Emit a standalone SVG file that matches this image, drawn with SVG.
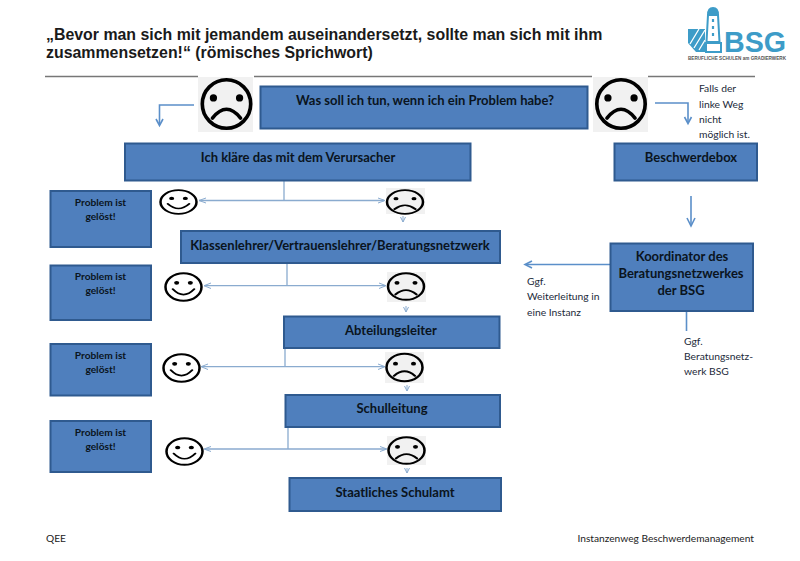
<svg xmlns="http://www.w3.org/2000/svg" width="800" height="561" viewBox="0 0 800 561">
<style>
text{font-family:Lato,"Open Sans",sans-serif;fill:#111}
.h{font-family:"Liberation Sans",Arial,sans-serif;font-weight:700;font-size:15.900px;fill:#1a1a1a}
.b{fill:#4f7fbd;stroke:#2f5a8f;stroke-width:2}
.t{font-weight:700;font-size:13px;text-anchor:middle;fill:#0a1420}
.s{font-weight:700;font-size:10.200px;text-anchor:middle;fill:#0a1420}
.n{font-size:10.300px;fill:#1c2a3a}
.f{font-size:10.200px;fill:#222}
.lt{fill:none;stroke:#8aabcf;stroke-width:1.3}
.ah{fill:none;stroke:#8aabcf;stroke-width:1}
.bl{fill:none;stroke:#5b8fc9;stroke-width:1.6}
.face{fill:none;stroke:#000;stroke-linecap:round}
</style>
<defs>
<g id="sadbig"><circle r="10" class="face" stroke-width="1.500"/><circle cx="-5.400" cy="-2.500" r="1.500"/><circle cx="5.400" cy="-2.500" r="1.500"/><path d="M-5.800 5.800Q0 -1.500 5.800 5.800" class="face" stroke-width="1.500"/></g>
<g id="sad"><circle r="10" class="face" stroke-width="1.400"/><circle cx="-5" cy="-2.800" r="1.400"/><circle cx="5" cy="-2.800" r="1.400"/><path d="M-5.800 6Q0 -0.500 5.800 6" class="face" stroke-width="1.400"/></g>
<g id="happy"><circle r="10" class="face" stroke-width="1.400"/><circle cx="-3.800" cy="-3" r="1.400"/><circle cx="3.800" cy="-3" r="1.400"/><path d="M-6 1.500Q0 9.500 6 1.500" class="face" stroke-width="1.200"/></g>
</defs>

<g id="header">
<text class="h" x="46" y="40">„Bevor man sich mit jemandem auseinandersetzt, sollte man sich mit ihm</text>
<text class="h" x="46" y="58">zusammensetzen!“ (römisches Sprichwort)</text>
<path d="M45 76.500H198M254 76.500H592M648 76.500H755" stroke="#777" stroke-width="1.300" fill="none"/>
</g>

<g id="logo">
<path d="M688 29H705V52H696L688 43Z" fill="#3d9cc8"/>
<path d="M690 44L699 29M694 48L705 30M699 50L705 40" stroke="#fff" stroke-width="1.300" fill="none"/>
<path d="M708 15H718L719.500 42H706.500Z" fill="#fff" stroke="#3d9cc8" stroke-width="2"/>
<path d="M707 15Q707 7 713 7Q719 7 719 15Z" fill="#3d9cc8"/>
<rect x="706" y="43" width="15" height="9" fill="#fff" stroke="#3d9cc8" stroke-width="2"/>
<path d="M713 19V36" stroke="#3d9cc8" stroke-width="2.200" stroke-dasharray="3 4" fill="none"/>
<text x="724" y="52" font-size="29" font-weight="700" style="font-family:'Liberation Sans',sans-serif;fill:#3d9cc8" textLength="62" lengthAdjust="spacingAndGlyphs">BSG</text>
<text x="688" y="60" font-size="5.200" font-weight="700" style="font-family:'Liberation Sans',sans-serif;fill:#555" textLength="98" lengthAdjust="spacingAndGlyphs">BERUFLICHE SCHULEN am GRADIERWERK</text>
</g>

<g id="connectors">
<path class="bl" d="M194 105H159.500V124"/><path class="bl" d="M156 119L159.500 125.500L163 119"/>
<path class="bl" d="M655 103H688V122"/><path class="bl" d="M684.500 117L688 123.500L691.500 117"/>
<path class="bl" d="M691 196V225"/><path class="bl" d="M687 218L691 226L695 218"/>
<path class="bl" stroke-width="2" d="M610 264.500H526"/><path class="bl" d="M532 261L525 264.500L532 268"/>
<path class="bl" stroke-width="2" d="M686.500 311V331"/>

<path class="lt" d="M284 181V200.500M199 200.500H384"/>
<path class="ah" d="M206 198L199 200.500L206 203M378 198L385 200.500L378 203"/>
<path class="ah" d="M400.500 217L403 222L405.500 217M403 216V222"/>

<path class="lt" d="M287 263V285.700M204 285.700H385"/>
<path class="ah" d="M211 283L204 285.700L211 288.500M379 283L386 285.700L379 288.500"/>
<path class="ah" d="M403.500 307L406 312L408.500 307M406 306V312"/>

<path class="lt" d="M285 348V366.700M202 366.700H384"/>
<path class="ah" d="M208 364L201 366.700L208 369.500M378 364L385 366.700L378 369.500"/>
<path class="ah" d="M404.500 386L407 391L409.500 386M407 385V391"/>

<path class="lt" d="M288 427V449M205 449H386"/>
<path class="ah" d="M211 446.500L204 449L211 451.500M380 446.500L387 449L380 451.500"/>
<path class="ah" d="M404.500 468L407 473L409.500 468M407 468V473"/>
</g>

<g id="sad-top-left"><rect x="198" y="77" width="55" height="55" fill="#f1f1f1"/><use href="#sadbig" transform="translate(226.500 104) scale(2.420)"/></g>
<g id="sad-top-right"><rect x="593" y="77" width="55" height="55" fill="#f1f1f1"/><use href="#sadbig" transform="translate(621 104) scale(2.420)"/></g>

<g id="n-problem"><rect class="b" x="260.500" y="86.500" width="327" height="42"/><text class="t" x="425" y="105">Was soll ich tun, wenn ich ein Problem habe?</text></g>
<g id="n-verursacher"><rect class="b" x="125" y="143.500" width="345.500" height="37"/><text class="t" x="298" y="161.500">Ich kläre das mit dem Verursacher</text></g>
<g id="n-box"><rect class="b" x="614.500" y="143.500" width="142.500" height="37"/><text class="t" x="691" y="161.500">Beschwerdebox</text></g>

<g id="n-klassen"><rect class="b" x="181" y="231" width="319" height="32"/><text class="t" x="340" y="250">Klassenlehrer/Vertrauenslehrer/Beratungsnetzwerk</text></g>
<g id="n-abteilung"><rect class="b" x="284" y="316.500" width="215.500" height="31.500"/><text class="t" x="391" y="335">Abteilungsleiter</text></g>
<g id="n-schulleitung"><rect class="b" x="285.500" y="395" width="214.500" height="32"/><text class="t" x="392" y="413">Schulleitung</text></g>
<g id="n-schulamt"><rect class="b" x="289.500" y="478" width="211.500" height="33"/><text class="t" x="395" y="497">Staatliches Schulamt</text></g>

<g id="n-koordinator"><rect class="b" stroke-width="2" x="610.500" y="243.500" width="142.500" height="67.500"/>
<text class="t" x="682" y="261">Koordinator des</text><text class="t" x="681" y="277.500">Beratungsnetzwerkes</text><text class="t" x="681" y="294.500">der BSG</text></g>

<g id="n-geloest-1"><rect class="b" x="50.500" y="191" width="100.500" height="56"/><text class="s" x="100.500" y="206">Problem ist</text><text class="s" x="100.500" y="220">gelöst!</text></g>
<g id="n-geloest-2"><rect class="b" x="50.500" y="265.500" width="100.500" height="54.500"/><text class="s" x="100.500" y="280">Problem ist</text><text class="s" x="100.500" y="294">gelöst!</text></g>
<g id="n-geloest-3"><rect class="b" x="50.500" y="344" width="100.500" height="51.500"/><text class="s" x="100.500" y="359">Problem ist</text><text class="s" x="100.500" y="373">gelöst!</text></g>
<g id="n-geloest-4"><rect class="b" x="50.500" y="421" width="100.500" height="51"/><text class="s" x="100.500" y="436">Problem ist</text><text class="s" x="100.500" y="450">gelöst!</text></g>

<g id="happy-1"><use href="#happy" transform="translate(178.500 202) scale(1.800 1.180)"/></g>
<g id="happy-2"><use href="#happy" transform="translate(183.500 287) scale(1.800 1.380)"/></g>
<g id="happy-3"><use href="#happy" transform="translate(181.500 368) scale(1.800 1.380)"/></g>
<g id="happy-4"><use href="#happy" transform="translate(184.500 451.500) scale(1.800 1.330)"/></g>

<g id="sad-1"><rect x="386" y="188" width="39" height="26" fill="#f1f1f1"/><use href="#sad" transform="translate(405 202) scale(1.800 1.180)"/></g>
<g id="sad-2"><rect x="387" y="272" width="39" height="30" fill="#f1f1f1"/><use href="#sad" transform="translate(406 286.500) scale(1.800 1.330)"/></g>
<g id="sad-3"><rect x="385" y="352" width="39" height="31" fill="#f1f1f1"/><use href="#sad" transform="translate(404.500 367.500) scale(1.800 1.380)"/></g>
<g id="sad-4"><rect x="387" y="436" width="39" height="29" fill="#f1f1f1"/><use href="#sad" transform="translate(406.500 450.500) scale(1.800 1.330)"/></g>

<g id="notes">
<text class="n" x="699" y="92">Falls der</text><text class="n" x="699" y="108">linke Weg</text><text class="n" x="699" y="123">nicht</text><text class="n" x="699" y="138">möglich ist.</text>
<text class="n" x="527" y="285">Ggf.</text><text class="n" x="527" y="300">Weiterleitung in</text><text class="n" x="527" y="316">eine Instanz</text>
<text class="n" x="684" y="345">Ggf.</text><text class="n" x="684" y="360">Beratungsnetz-</text><text class="n" x="684" y="375">werk BSG</text>
</g>
<g id="footer"><text class="f" x="46" y="542">QEE</text><text class="f" x="754" y="542" text-anchor="end">Instanzenweg Beschwerdemanagement</text></g>
</svg>
